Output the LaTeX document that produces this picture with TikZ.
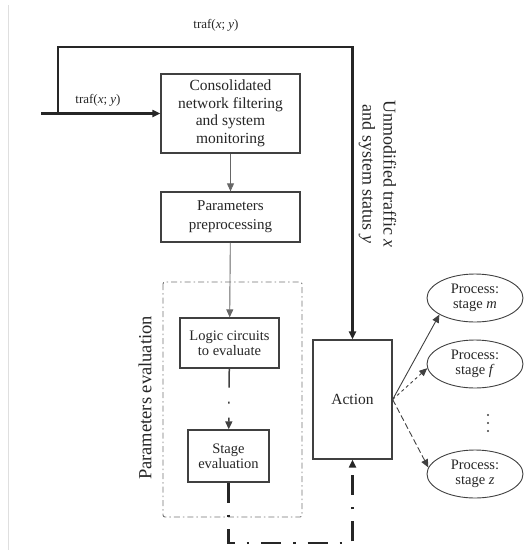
\documentclass[tikz,border=0pt]{standalone}
\usepackage{fontspec}
\setmainfont{Liberation Serif}
\usetikzlibrary{arrows.meta,shapes.geometric}
\begin{document}
\begin{tikzpicture}[x=1pt,y=-1pt,
  box/.style={draw=black!75,line width=1.3pt,fill=white,align=center,inner sep=0pt,text=black!85},
  proc/.style={ellipse,draw=black!75,line width=0.9pt,align=center,inner sep=0pt,minimum width=96pt,minimum height=48pt,text=black!85,font=\fontsize{14.5}{15}\selectfont},
  tip/.style={-{Triangle[length=8pt,width=7pt]}},
  thinline/.style={draw=black!60,line width=0.9pt},
  heavy/.style={line width=2.4pt,draw=black!85},
  lbl/.style={inner sep=0pt,text=black!85}]
\useasboundingbox (0,0) rectangle (525,550);
\draw[gray!25,line width=1pt] (8,5) -- (8,550);
% boxes
\node[box,minimum width=139pt,minimum height=79pt,font=\fontsize{15.5}{17.5}\selectfont] (cons) at (230.5,113.5) {Consolidated\\network filtering\\and system\\monitoring};
\node[box,minimum width=139pt,minimum height=50pt,font=\fontsize{15}{19}\selectfont] (pre) at (230.5,217) {Parameters\\preprocessing};
\node[box,minimum width=99pt,minimum height=50pt,font=\fontsize{14.5}{15}\selectfont] (logic) at (229.5,343) {Logic circuits\\to evaluate};
\node[box,minimum width=81pt,minimum height=52pt,font=\fontsize{14.5}{15}\selectfont] (stage) at (228.5,456) {Stage\\evaluation};
\node[box,minimum width=79pt,minimum height=119pt,font=\fontsize{15.5}{16}\selectfont] (act) at (352.5,399.5) {Action};
% dashed group
\draw[draw=black!55,line width=0.9pt,dash pattern={on 6pt off 3pt on 1.5pt off 3pt},rounded corners=2pt] (163,282) rectangle (302,517);
\node[lbl,rotate=90,font=\fontsize{18.5}{20}\selectfont] (pev) at (145,398) {Parameters evaluation};
% ellipses
\node[proc] (pm) at (475,298) {Process:\\stage \textit{m}};
\node[proc] (pf) at (475,364) {Process:\\stage \textit{f}};
\node[proc] (pz) at (475,474) {Process:\\stage \textit{z}};
\foreach \yy in {415,423,431} \fill[black!75] (488,\yy) circle (1.1pt);
% input and feedback
\coordinate (in) at (41,113.5);
\coordinate (fb) at (58,113.5);
\draw[heavy,tip] (in) -- (cons.west);
\draw[heavy,tip] (fb) -- (58,47) -| (act.north);
\node[lbl,font=\fontsize{13}{14}\selectfont] (t1) at (216,25) {traf(\textit{x}; \textit{y})};
\node[lbl,font=\fontsize{13}{14}\selectfont] (t2) at (98,100) {traf(\textit{x}; \textit{y})};
\node[lbl,rotate=-90,align=center,font=\fontsize{18}{21}\selectfont] (unm) at (377.5,174) {Unmodified traffic \textit{x}\\and system status \textit{y}};
% main chain
\draw[thinline,tip] (cons) -- (pre);
\draw[thinline,tip] (pre) -- (logic);
\draw[line width=1.5pt,draw=black!75,dash pattern={on 19pt off 14pt on 2pt off 14pt},tip] (logic) -- (stage);
\draw[line width=2.6pt,draw=black!85,dash pattern={on 20pt off 12pt on 2.5pt off 12pt},tip] (stage.south) -- (228.5,543) -| (act.south);
% actions to processes
\draw[line width=0.9pt,draw=black!75,tip] (act.east) -- (pm.205);
\draw[line width=0.9pt,draw=black!75,dashed,tip] (act.east) -- (pf.185);
\draw[line width=0.9pt,draw=black!75,dash pattern={on 6pt off 3pt},tip] (act.east) -- (pz.172);
\end{tikzpicture}
\end{document}
